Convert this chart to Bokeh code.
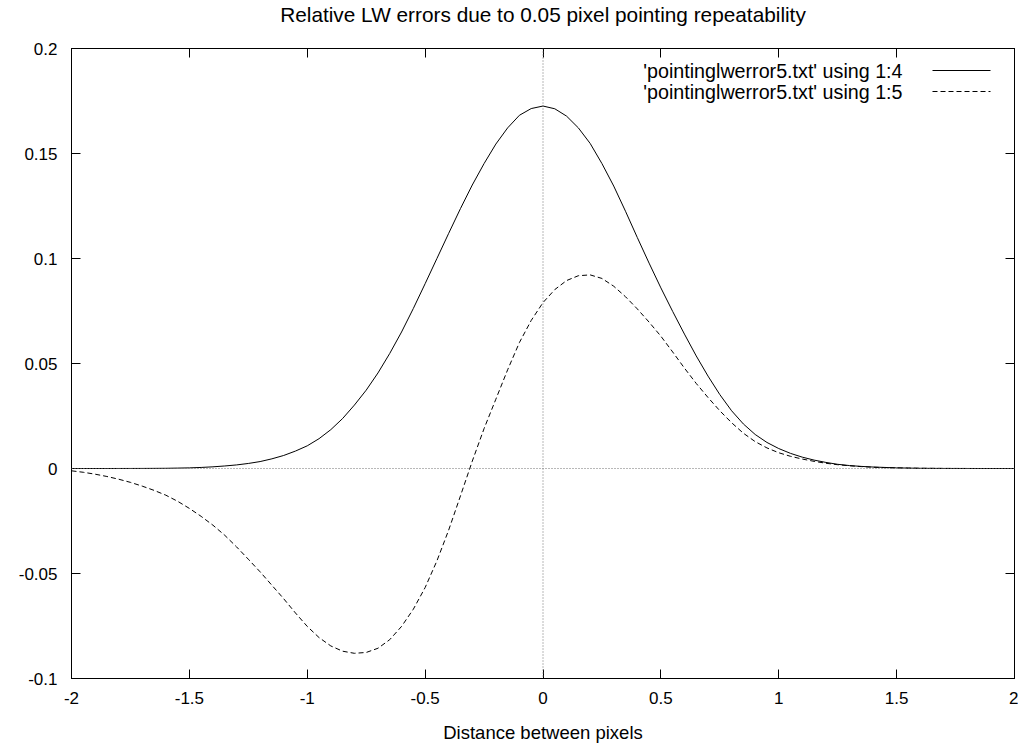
from bokeh.plotting import figure
from bokeh.models import Range1d, LinearAxis, Span, Label, Arrow, FixedTicker, CustomJSTickFormatter, ColumnDataSource
from bokeh.embed import file_html
from bokeh.resources import INLINE

# Distance between pixels
x_vals = [-2.00, -1.95, -1.90, -1.85, -1.80, -1.75, -1.70, -1.65, -1.60, -1.55,
          -1.50, -1.45, -1.40, -1.35, -1.30, -1.25, -1.20, -1.15, -1.10, -1.05,
          -1.00, -0.95, -0.90, -0.85, -0.80, -0.75, -0.70, -0.65, -0.60, -0.55,
          -0.50, -0.45, -0.40, -0.35, -0.30, -0.25, -0.20, -0.15, -0.10, -0.05,
          0.00, 0.05, 0.10, 0.15, 0.20, 0.25, 0.30, 0.35, 0.40, 0.45,
          0.50, 0.55, 0.60, 0.65, 0.70, 0.75, 0.80, 0.85, 0.90, 0.95,
          1.00, 1.05, 1.10, 1.15, 1.20, 1.25, 1.30, 1.35, 1.40, 1.45,
          1.50, 1.55, 1.60, 1.65, 1.70, 1.75, 1.80, 1.85, 1.90, 1.95, 2.00]

# 'pointinglwerror5.txt' using 1:4 (solid)
col4 = [0.0, 0.0, 0.0, 0.0, 0.00001, 0.00002, 0.00003, 0.00006, 0.0001, 0.0002,
        0.0003, 0.0005, 0.0008, 0.0012, 0.0017, 0.0024, 0.0033, 0.0046, 0.0062, 0.0083,
        0.0108, 0.0142, 0.0185, 0.0238, 0.0302, 0.0373, 0.0455, 0.0548, 0.0650, 0.0762,
        0.0880, 0.1000, 0.1120, 0.1238, 0.1350, 0.1452, 0.1545, 0.1622, 0.1682, 0.1714,
        0.1726, 0.1713, 0.1678, 0.1622, 0.1548, 0.1452, 0.1345, 0.1225, 0.1100, 0.0978,
        0.0860, 0.0748, 0.0640, 0.0536, 0.0440, 0.0352, 0.0275, 0.0212, 0.0162, 0.0124,
        0.0095, 0.0072, 0.0054, 0.0040, 0.0029, 0.0020, 0.0014, 0.0010, 0.0007, 0.0005,
        0.0003, 0.0002, 0.0001, 0.00006, 0.00003, 0.00002, 0.00001, 0.0, 0.0, 0.0, 0.0]

# 'pointinglwerror5.txt' using 1:5 (dashed)
col5 = [-0.0011, -0.0018, -0.0027, -0.0038, -0.0051, -0.0066, -0.0084, -0.0104, -0.0127, -0.0156,
        -0.0190, -0.0228, -0.0270, -0.0318, -0.0373, -0.0432, -0.0492, -0.0556, -0.0620, -0.0688,
        -0.0752, -0.0805, -0.0845, -0.0870, -0.0880, -0.0876, -0.0856, -0.0815, -0.0752, -0.0670,
        -0.0567, -0.0440, -0.0293, -0.0130, 0.0035, 0.0190, 0.0330, 0.0470, 0.0600, 0.0705,
        0.0790, 0.0852, 0.0895, 0.0918, 0.0922, 0.0905, 0.0868, 0.0818, 0.0760, 0.0697,
        0.0630, 0.0555, 0.0478, 0.0405, 0.0338, 0.0275, 0.0218, 0.0168, 0.0128, 0.0098,
        0.0075, 0.0058, 0.0045, 0.0034, 0.0025, 0.0018, 0.0013, 0.0009, 0.0006, 0.0004,
        0.0003, 0.0002, 0.0001, 0.00006, 0.00003, 0.00002, 0.0, 0.0, 0.0, 0.0, 0.0]

x_ticks = [-2, -1.5, -1, -0.5, 0, 0.5, 1, 1.5, 2]
y_ticks = [-0.1, -0.05, 0, 0.05, 0.1, 0.15, 0.2]
legend_labels = ["'pointinglwerror5.txt' using 1:4", "'pointinglwerror5.txt' using 1:5"]
title_text = "Relative LW errors due to 0.05 pixel pointing repeatability"
x_label = "Distance between pixels"

FONT = "Liberation Sans"

src = ColumnDataSource(dict(x=x_vals, c4=col4, c5=col5))

p = figure(frame_width=943, frame_height=630,
           x_range=Range1d(-2, 2), y_range=Range1d(-0.1, 0.2),
           output_backend="svg", toolbar_location=None,
           min_border_left=71, min_border_right=4, min_border_top=46, min_border_bottom=61,
           title=title_text + "\n")
p.background_fill_color = "white"
p.border_fill_color = "white"
p.outline_line_color = "black"
p.outline_line_width = 1
p.grid.visible = False

p.title.text_font = FONT
p.title.text_font_size = "20.8px"
p.title.text_font_style = "normal"
p.title.text_line_height = 1.0
p.title.align = "center"
p.title.text_color = "black"
p.title.standoff = 0
p.title.offset = -7

plain = CustomJSTickFormatter(code="return tick.toString()")
for ax in [p.xaxis[0], p.yaxis[0]]:
    ax.major_tick_in = 9
    ax.major_tick_out = 0
    ax.minor_tick_in = 0
    ax.minor_tick_out = 0
    ax.major_tick_line_color = "black"
    ax.axis_line_color = "black"
    ax.major_label_text_font = FONT
    ax.major_label_text_font_size = "17px"
    ax.major_label_text_color = "black"
    ax.formatter = plain
p.xaxis[0].ticker = FixedTicker(ticks=x_ticks)
p.yaxis[0].ticker = FixedTicker(ticks=y_ticks)
p.xaxis[0].major_label_standoff = 13
p.yaxis[0].major_label_standoff = 14
p.xaxis[0].axis_label = x_label
p.xaxis[0].axis_label_text_font = FONT
p.xaxis[0].axis_label_text_font_size = "18.5px"
p.xaxis[0].axis_label_text_font_style = "normal"
p.xaxis[0].axis_label_text_color = "black"
p.xaxis[0].axis_label_standoff = 15

empty = CustomJSTickFormatter(code="return ''")
right = LinearAxis(ticker=FixedTicker(ticks=y_ticks), formatter=empty,
                   major_tick_in=9, major_tick_out=0, minor_tick_in=0, minor_tick_out=0,
                   major_label_standoff=0, axis_line_color="black")
top = LinearAxis(ticker=FixedTicker(ticks=x_ticks), formatter=empty,
                 major_tick_in=9, major_tick_out=0, minor_tick_in=0, minor_tick_out=0,
                 major_label_standoff=0, axis_line_color="black")
p.add_layout(right, "right")
p.add_layout(top, "above")

# zero axes
p.add_layout(Span(location=0, dimension="width", line_color="#707070", line_width=1, line_dash="1 2"))
p.add_layout(Span(location=0, dimension="height", line_color="#707070", line_width=1, line_dash="1 2"))

p.line("x", "c4", source=src, line_color="black", line_width=1)
p.line("x", "c5", source=src, line_color="black", line_width=1, line_dash="5 3")

# gnuplot-style key: text then sample
rows_y = [608, 587]
dashes = ["solid", "5 3"]
for lab, yy, dash in zip(legend_labels, rows_y, dashes):
    p.add_layout(Label(x=831, y=yy, x_units="screen", y_units="screen", text=lab,
                       text_font=FONT, text_font_size="19.7px", text_align="right",
                       text_baseline="middle", text_color="black"))
    p.add_layout(Arrow(end=None, x_start=861, y_start=yy, x_end=919, y_end=yy,
                       start_units="screen", end_units="screen",
                       line_color="black", line_width=1, line_dash=dash))

open("out.html", "w").write(file_html(p, INLINE))
